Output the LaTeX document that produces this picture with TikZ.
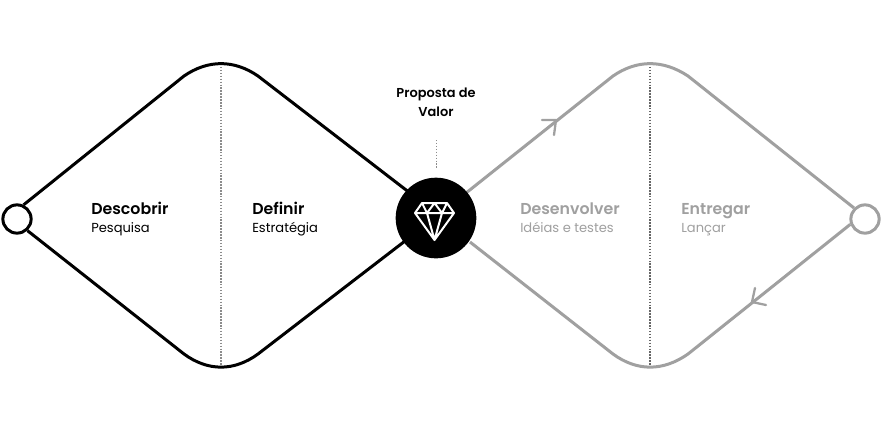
\documentclass[tikz,border=0pt]{standalone}
\usepackage{fontspec}
\setmainfont{Poppins}
\newfontfamily\semi{Poppins SemiBold}
\usetikzlibrary{calc}
\definecolor{gr}{HTML}{A0A0A0}
\tikzset{
  px/.style={x=0.75pt,y=-0.75pt},
  loopline/.style={line width=2.25pt,line join=round},
  ringnode/.style={circle,line width=2.25pt,minimum size=21.2pt,inner sep=0pt,fill=white},
  dots/.style={line width=0.85pt,dash pattern=on 1.1pt off 1.1pt},
  barb/.style={line width=1.7pt,line cap=round,line join=round,gr},
  title/.style={anchor=base west,inner sep=0pt,font=\semi\fontsize{11.85}{14}\selectfont},
  sub/.style={anchor=base west,inner sep=0pt,font=\fontsize{9.8}{12}\selectfont},
}
\begin{document}
\begin{tikzpicture}[px]
\useasboundingbox (0,0) rectangle (881,430);
\fill[white] (0,0) rectangle (881,430);
% anchors
\coordinate (ltop) at (221,64);
\coordinate (lbot) at (221,367);
\coordinate (rtop) at (650,64);
\coordinate (rbot) at (650,367);
\node[ringnode,draw=black] (start) at (17,219) {};
\node[ringnode,draw=gr] (finish) at (865,219) {};
\coordinate (cul) at (410,193);
\coordinate (cll) at (405,241);
\coordinate (cur) at (466,193);
\coordinate (clr) at (470,242);
% dotted dividers
\draw[dots,black!45] (ltop) -- (lbot);
\draw[dots,black!60] (rtop) -- (rbot);
% left diamond
\draw[loopline,black] (start.65) -- (184,76) .. controls (208,59.5) and (234,59.5) .. (258,76) -- (cul);
\draw[loopline,black] (start.-48) -- (184,354) .. controls (208,371.5) and (234,371.5) .. (258,354) -- (cll);
% right diamond
\draw[loopline,gr] (cur) -- (613,76) .. controls (637,59.5) and (663,59.5) .. (688,76) -- (finish.135);
\draw[loopline,gr] (clr) -- (613,354) .. controls (637,371.5) and (663,371.5) .. (688,354) -- (finish.200);
% arrow barbs
\coordinate (up) at (556,120);
\coordinate (dn) at (752,302);
\draw[barb] (542,120) -- (up) -- (554,135);
\draw[barb] (755,288) -- (dn) -- (766,305);
% centre
\node[circle,fill=black,minimum size=60.5pt,inner sep=0pt] (hub) at (436,218) {};
\draw[white,line width=1.5pt,line join=round]
  (422,203) -- (447,203) -- (454,213) -- (434.5,240) -- (415,213) -- cycle
  (415,213) -- (454,213)
  (422,203) -- (427,213) -- (434.5,240) -- (442,213) -- (447,203)
  (427,213) -- (434.5,203) -- (442,213);
% label
\node[align=center,inner sep=0pt,font=\semi\fontsize{9.7}{14.4}\selectfont] (prop) at (436,102) {Proposta de\\Valor};
\coordinate (tick) at (436,168);
\draw[black!45,line width=0.75pt,dash pattern=on 1.1pt off 1.1pt] (436,140) -- (tick);
% texts
\node[title] (a1) at (91,214) {Descobrir};
\node[sub] (a2) at (91,232.5) {Pesquisa};
\node[title] (b1) at (252,214) {Definir};
\node[sub] (b2) at (252,232.5) {Estratégia};
\node[title,gr] (c1) at (520,214) {Desenvolver};
\node[sub,gr] (c2) at (520,232.5) {Idéias e testes};
\node[title,gr] (d1) at (681,214) {Entregar};
\node[sub,gr] (d2) at (681,232.5) {Lançar};
\end{tikzpicture}
\end{document}
